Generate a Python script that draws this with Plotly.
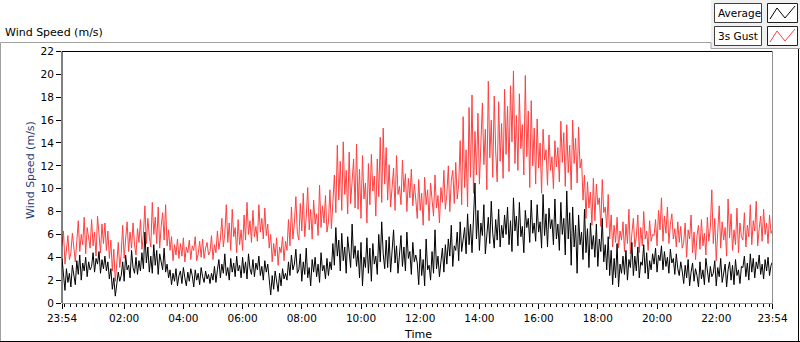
import plotly.graph_objects as go

# ---- data: sampled every 3 minutes from 23:54 to 23:54 next day (one row per hour) ----
step_min = 3
gust = [
    5.0, 6.3, 3.4, 4.6, 5.9, 3.8, 4.4, 6.1, 4.9, 3.6, 5.4, 7.2, 4.5, 6.0, 5.1, 7.5, 4.3, 6.6, 5.7, 4.8,
    7.3, 5.0, 6.2, 4.1, 7.6, 5.6, 4.4, 6.9, 5.2, 7.0, 4.6, 6.3, 3.9, 5.5, 2.8, 4.7, 1.9, 3.4, 5.3, 3.1,
    4.3, 6.8, 3.9, 5.6, 7.1, 4.5, 6.2, 4.8, 7.0, 5.1, 4.2, 6.5, 5.3, 7.3, 4.7, 6.0, 8.5, 5.2, 7.4, 5.8,
    4.9, 8.8, 6.0, 7.5, 5.2, 8.4, 4.8, 6.7, 7.9, 5.5, 8.6, 5.0, 6.4, 4.6, 5.8, 3.7, 5.1, 4.2, 5.6, 3.9,
    5.2, 4.1, 5.7, 3.6, 4.9, 4.4, 5.5, 3.8, 5.0, 4.6, 5.8, 3.7, 4.3, 5.4, 4.0, 5.6, 3.9, 4.8, 5.3, 4.2,
    4.5, 5.9, 3.8, 5.1, 4.4, 6.3, 4.7, 5.6, 7.4, 4.9, 6.1, 8.6, 5.3, 7.0, 4.6, 8.2, 5.8, 6.6, 4.4, 7.3,
    5.1, 6.4, 4.6, 7.7, 5.5, 8.8, 6.0, 7.2, 5.3, 8.1, 5.8, 6.7, 5.4, 8.6, 6.2, 7.4, 5.6, 8.3, 5.9, 6.9,
    4.8, 6.0, 3.6, 5.2, 4.1, 5.7, 3.3, 4.9, 4.4, 5.8, 3.7, 5.4, 4.6, 7.3, 5.0, 8.4, 5.6, 7.0, 9.3, 6.1,
    5.5, 8.7, 6.3, 9.6, 5.8, 7.5, 10.1, 6.4, 8.2, 5.6, 9.0, 6.9, 7.8, 5.9, 10.3, 6.6, 8.5, 7.0, 9.4, 6.2,
    7.1, 9.9, 6.5, 8.8, 11.2, 7.9, 13.8, 9.0, 12.4, 8.1, 14.1, 9.5, 11.6, 7.8, 13.2, 8.7, 10.9, 12.6, 8.3, 13.9,
    8.2, 11.7, 7.4, 12.9, 9.1, 10.5, 7.0, 12.2, 8.6, 13.0, 9.8, 11.1, 7.6, 12.6, 9.3, 14.5, 8.8, 15.3, 10.4, 13.6,
    9.0, 12.1, 8.4, 10.6, 11.8, 8.1, 12.9, 9.5, 10.2, 8.6, 12.5, 9.7, 11.3, 8.0, 10.9, 9.2, 11.7, 8.5, 10.4, 9.1,
    7.4, 10.8, 8.1, 9.6, 6.8, 11.0, 8.6, 9.9, 7.2, 10.5, 8.9, 7.6, 11.2, 8.3, 9.4, 7.0, 10.1, 8.8, 11.6, 8.2,
    9.5, 12.0, 8.0, 10.7, 11.6, 8.7, 12.3, 9.1, 10.4, 14.2, 8.6, 16.3, 10.1, 13.4, 8.4, 17.1, 11.0, 18.2, 9.6, 15.0,
    11.2, 16.6, 10.4, 14.3, 17.5, 12.1, 15.2, 9.9, 19.4, 12.7, 16.0, 11.0, 18.1, 13.3, 10.6, 17.6, 12.4, 15.7, 10.9, 18.7,
    13.0, 17.2, 11.5, 19.0, 14.1, 20.3, 12.2, 16.4, 11.6, 18.3, 13.5, 15.6, 11.2, 19.9, 12.8, 16.8, 10.1, 17.7, 12.0, 15.3,
    10.4, 16.1, 11.8, 14.0, 9.6, 15.2, 12.5, 13.4, 10.3, 14.7, 11.6, 12.8, 10.0, 14.2, 11.9, 13.6, 10.6, 15.9, 12.3, 14.9,
    10.2, 15.6, 11.4, 13.8, 9.9, 16.0, 12.2, 14.4, 10.5, 15.4, 11.8, 12.6, 9.0, 11.2, 7.4, 10.6, 8.3, 9.7, 6.8, 10.9,
    7.2, 10.4, 8.6, 9.2, 6.7, 10.8, 7.9, 8.4, 6.6, 9.5, 5.6, 7.7, 4.9, 6.8, 5.3, 7.5, 4.8, 6.3, 5.5, 7.1,
    4.5, 6.9, 5.2, 8.2, 4.3, 6.1, 7.4, 4.9, 5.8, 7.7, 4.4, 6.6, 5.0, 8.0, 5.6, 6.3, 4.6, 7.2, 5.4, 6.0,
    5.9, 7.3, 5.0, 8.1, 6.4, 9.2, 5.4, 7.6, 6.1, 8.4, 5.2, 6.9, 7.8, 5.6, 6.5, 4.9, 7.1, 5.3, 6.7, 4.8,
    5.3, 7.0, 4.0, 6.4, 5.6, 7.7, 4.4, 6.2, 3.8, 5.9, 6.8, 4.7, 7.3, 5.0, 6.1, 4.2, 7.5, 5.4, 6.6, 9.9,
    5.2, 7.4, 3.7, 6.2, 8.5, 4.8, 7.1, 5.5, 6.6, 4.1, 9.1, 5.7, 7.8, 4.6, 6.4, 5.1, 8.3, 4.4, 7.0, 5.8,
    5.5, 7.9, 4.9, 6.8, 5.8, 8.6, 5.1, 7.2, 6.3, 8.9, 5.0, 6.5, 7.6, 5.4, 8.2, 6.0, 7.0, 5.2, 7.7, 6.1,
    6.4,
]
average = [
    3.9, 2.4, 1.1, 3.0, 1.8, 2.6, 1.4, 3.3, 2.2, 1.6, 3.7, 2.5, 4.2, 2.0, 3.5, 2.8, 4.0, 2.3, 3.6, 2.9,
    3.2, 4.4, 2.7, 3.9, 3.4, 4.5, 2.6, 3.8, 3.0, 4.1, 2.8, 3.6, 2.1, 3.0, 1.2, 2.2, 0.6, 1.5, 2.7, 1.9,
    2.4, 3.6, 1.9, 4.2, 2.9, 3.3, 2.2, 4.6, 3.1, 2.6, 4.0, 2.5, 3.7, 2.8, 4.4, 3.0, 6.2, 3.5, 4.9, 2.7,
    4.1, 2.6, 5.1, 3.3, 4.6, 2.5, 4.3, 3.6, 2.9, 4.8, 2.7, 3.4, 2.2, 2.9, 1.6, 2.6, 1.9, 3.0, 1.5, 2.4,
    2.8, 1.7, 3.1, 2.2, 1.5, 2.7, 1.9, 3.0, 2.4, 1.4, 2.9, 2.0, 2.6, 1.6, 3.1, 2.3, 1.8, 2.8, 2.1, 2.5,
    1.7, 2.6, 2.0, 3.2, 1.8, 2.9, 3.8, 2.2, 3.4, 2.6, 4.3, 2.4, 3.1, 2.0, 3.9, 2.7, 3.5, 2.3, 4.1, 2.8,
    3.3, 2.2, 4.0, 2.6, 3.6, 2.1, 4.3, 3.0, 2.5, 3.8, 2.3, 3.5, 2.9, 4.1, 2.4, 3.2, 2.0, 3.7, 2.7, 3.4,
    1.6, 0.7, 2.4, 1.2, 2.8, 1.8, 1.0, 2.6, 1.5, 3.0, 2.1, 2.6, 2.0, 3.6, 2.4, 4.2, 2.9, 3.4, 4.7, 2.6,
    2.9, 4.3, 1.9, 3.6, 2.5, 4.8, 2.2, 3.1, 1.5, 3.8, 2.7, 4.0, 2.3, 3.4, 1.8, 4.4, 2.8, 3.3, 2.1, 3.9,
    2.4, 3.6, 2.9, 5.2, 3.3, 6.6, 4.1, 5.5, 2.8, 6.1, 3.7, 4.9, 2.6, 5.8, 4.4, 3.1, 6.9, 3.9, 5.0, 3.2,
    4.6, 2.2, 5.3, 1.5, 4.0, 3.1, 5.7, 2.6, 4.8, 1.9, 5.2, 3.4, 4.1, 2.5, 6.0, 3.6, 7.1, 4.3, 3.0, 5.5,
    3.1, 5.8, 2.7, 4.6, 6.4, 3.5, 5.0, 2.6, 4.4, 5.9, 3.2, 4.9, 2.8, 6.2, 3.9, 4.5, 2.5, 5.3, 3.6, 4.2,
    3.5, 1.6, 4.7, 2.4, 3.8, 1.5, 5.6, 2.9, 3.3, 2.0, 4.5, 2.6, 6.4, 3.0, 4.1, 2.3, 3.6, 4.8, 2.7, 5.1,
    3.4, 5.6, 4.1, 6.8, 3.2, 5.0, 4.6, 6.2, 3.7, 7.1, 4.5, 5.4, 6.6, 4.3, 7.8, 5.1, 6.9, 4.4, 8.0, 10.5,
    5.6, 8.1, 4.6, 7.0, 5.9, 8.6, 4.3, 6.4, 7.5, 5.2, 8.9, 6.1, 4.8, 7.3, 5.5, 8.2, 4.9, 6.8, 5.7, 7.7,
    6.0, 8.4, 5.1, 7.2, 4.5, 9.2, 6.3, 7.6, 5.0, 8.8, 5.8, 6.7, 4.4, 8.1, 6.6, 7.4, 5.3, 9.0, 6.1, 7.0,
    5.4, 8.6, 6.2, 7.1, 4.8, 9.5, 5.9, 7.8, 4.9, 8.3, 6.5, 7.3, 5.1, 9.1, 5.6, 6.9, 4.6, 8.8, 6.0, 7.4,
    4.2, 9.8, 5.6, 7.9, 3.3, 8.4, 4.9, 6.8, 2.6, 7.7, 5.1, 6.2, 3.8, 8.2, 4.4, 6.5, 3.1, 7.0, 4.7, 5.9,
    4.0, 6.9, 3.2, 5.6, 4.5, 7.4, 3.6, 5.1, 2.9, 5.8, 2.4, 4.6, 1.6, 3.9, 2.2, 5.2, 1.4, 3.4, 2.6, 4.1,
    2.5, 4.6, 2.0, 3.8, 3.1, 5.3, 2.4, 4.1, 2.8, 4.9, 2.2, 3.6, 3.3, 5.1, 2.6, 4.4, 2.1, 3.7, 2.9, 4.3,
    3.4, 4.8, 2.7, 4.2, 3.7, 5.0, 2.9, 4.5, 3.2, 4.0, 2.6, 4.7, 3.5, 3.9, 2.5, 4.3, 3.0, 2.4, 3.6, 2.8,
    1.7, 3.3, 2.2, 3.8, 1.5, 2.7, 3.5, 1.9, 3.0, 2.4, 1.4, 3.6, 2.1, 2.9, 1.6, 3.9, 2.5, 1.8, 3.2, 2.3,
    2.6, 3.7, 1.5, 3.1, 2.3, 3.9, 1.8, 2.8, 3.4, 1.4, 2.9, 3.6, 2.0, 3.3, 1.6, 3.8, 2.4, 2.9, 1.7, 3.2,
    3.1, 4.1, 2.3, 3.5, 2.0, 4.3, 2.7, 3.9, 2.2, 3.6, 3.0, 4.2, 2.5, 3.4, 2.1, 3.8, 2.8, 4.0, 2.4, 3.3,
    3.6,
]
x_tick_minutes = [0, 126, 246, 366, 486, 606, 726, 846, 966, 1086, 1206, 1326, 1440]
x_tick_labels = ["23:54", "02:00", "04:00", "06:00", "08:00", "10:00", "12:00",
                 "14:00", "16:00", "18:00", "20:00", "22:00", "23:54"]
y_ticks = list(range(0, 23, 2))
series_names = ["Average", "3s Gust"]

minutes = [i * step_min for i in range(len(gust))]

W, H = 800, 342
def px(x): return x / W
def py(y): return 1 - y / H

L, R, T, B = 62, 772.5, 51.5, 303
FONT = "DejaVu Sans"

fig = go.Figure()
fig.add_trace(go.Scatter(x=minutes, y=gust, mode="lines", name=series_names[1],
                         line=dict(color="#ff4040", width=1), showlegend=False))
fig.add_trace(go.Scatter(x=minutes, y=average, mode="lines", name=series_names[0],
                         line=dict(color="#000000", width=1), showlegend=False))

shapes = []
def line(x0, y0, x1, y1, color, width=1):
    shapes.append(dict(type="line", xref="paper", yref="paper",
                       x0=px(x0), y0=py(y0), x1=px(x1), y1=py(y1),
                       line=dict(color=color, width=width)))

# outer panel
line(0.5, 42.5, 711, 42.5, "#a0a0a0")
line(0.5, 42.5, 0.5, 341.5, "#a0a0a0")
line(0, 341.5, 800, 341.5, "#000000")
line(798.5, 48, 798.5, 342, "#000000")
# legend panel
shapes.append(dict(type="rect", xref="paper", yref="paper", x0=px(711), y0=py(48.5),
                   x1=px(800), y1=py(0), fillcolor="#f0f0f0", line=dict(width=0), layer="below"))
line(711, 48.5, 800, 48.5, "#a0a0a0")
line(711, 42.5, 711, 48.5, "#a0a0a0")
# legend boxes
for (yt, yb) in [(3.5, 22.5), (26.5, 45.5)]:
    shapes.append(dict(type="rect", xref="paper", yref="paper", x0=px(714.5), y0=py(yb),
                       x1=px(761.5), y1=py(yt), fillcolor="white", line=dict(color="#404040", width=1)))
    shapes.append(dict(type="rect", xref="paper", yref="paper", x0=px(767.5), y0=py(yb),
                       x1=px(797.5), y1=py(yt), fillcolor="white", line=dict(color="#202020", width=1)))
def zig(y_off, color):
    pts = [(770, 19), (777, 8), (785, 18), (795, 6)]
    d = "M " + " L ".join(f"{px(x)},{py(y + y_off)}" for x, y in pts)
    shapes.append(dict(type="path", xref="paper", yref="paper", path=d,
                       line=dict(color=color, width=1)))
zig(0, "#000000")
zig(23, "#ff4040")

# plot frame
line(L, T, R, T, "#000000")
line(L, T, L, B, "#000000")
line(R, T, R, B, "#909090")

annotations = [
    dict(text="Wind Speed (m/s)", xref="paper", yref="paper", x=px(3), y=py(32),
         xanchor="left", yanchor="middle", showarrow=False,
         font=dict(family=FONT, size=11, color="#000000")),
    dict(text="Wind Speed (m/s)", xref="paper", yref="paper", x=px(31), y=py(170),
         xanchor="center", yanchor="middle", textangle=-90, showarrow=False,
         font=dict(family=FONT, size=11, color="#1f3c78")),
    dict(text="Time", xref="paper", yref="paper", x=px(418), y=py(334),
         xanchor="center", yanchor="middle", showarrow=False,
         font=dict(family=FONT, size=11, color="#000000")),
    dict(text=series_names[0], xref="paper", yref="paper", x=px(716), y=py(13),
         xanchor="left", yanchor="middle", showarrow=False,
         font=dict(family=FONT, size=10.5, color="#000000")),
    dict(text=series_names[1], xref="paper", yref="paper", x=px(716), y=py(36),
         xanchor="left", yanchor="middle", showarrow=False,
         font=dict(family=FONT, size=10.5, color="#000000")),
]

fig.update_layout(
    template="none",
    width=W, height=H,
    margin=dict(l=0, r=0, t=0, b=0, pad=0, autoexpand=False),
    paper_bgcolor="white", plot_bgcolor="white",
    shapes=shapes, annotations=annotations,
    xaxis=dict(domain=[px(L), px(R)], range=[0, 1440], tickmode="array", automargin=False,
               tickvals=x_tick_minutes, ticktext=x_tick_labels,
               ticks="outside", ticklen=5, tickcolor="#000000", tickwidth=1,
               showgrid=False, zeroline=False, showline=True, linecolor="#909090", linewidth=1,
               tickfont=dict(family=FONT, size=10.5, color="#000000"),
               minor=dict(tick0=6, dtick=12, ticks="outside", ticklen=3,
                          tickcolor="#000000", showgrid=False)),
    yaxis=dict(domain=[py(B), py(T)], range=[0, 22], tickmode="array", tickvals=y_ticks,
               automargin=False,
               ticks="outside", ticklen=5, tickcolor="#000000", tickwidth=1,
               showgrid=False, zeroline=False, showline=False,
               tickfont=dict(family=FONT, size=10.5, color="#000000")),
    font=dict(family=FONT),
    hovermode=False,
)

fig.write_html("out.html", config={"displayModeBar": False, "staticPlot": True},
               post_script="document.body.style.margin='0';document.body.style.overflow='hidden';")
